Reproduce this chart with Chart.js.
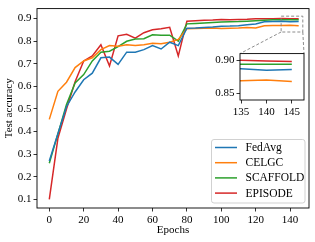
<!DOCTYPE html>
<html>
<head>
<meta charset="utf-8">
<script src="https://cdn.jsdelivr.net/npm/chart.js@4.4.1/dist/chart.umd.min.js"></script>
<style>
  html, body { margin: 0; padding: 0; background: #fff; }
  #wrap { position: relative; width: 315px; height: 242px; }
  #main { position: absolute; left: 0; top: 0; }
  #inset { position: absolute; left: 195px; top: 45px; }
</style>
</head>
<body>
<div id="wrap">
  <canvas id="main" width="315" height="242"></canvas>
  <canvas id="inset" width="115" height="75"></canvas>
</div>
<script>
// données (une valeur toutes les 5 époques)
const epochs = [0, 5, 10, 15, 20, 25, 30, 35, 40, 45, 50, 55, 60, 65, 70, 75, 80, 85, 90, 95, 100, 105, 110, 115, 120, 125, 130, 135, 140, 145];
const fedAvg = [0.27, 0.39, 0.51, 0.575, 0.629, 0.658, 0.726, 0.729, 0.697, 0.751, 0.751, 0.762, 0.78, 0.765, 0.795, 0.78, 0.857, 0.858, 0.86, 0.862, 0.865, 0.866, 0.868, 0.872, 0.875, 0.885, 0.886, 0.887, 0.885, 0.886];
const celgc = [0.454, 0.578, 0.618, 0.683, 0.712, 0.726, 0.762, 0.78, 0.777, 0.784, 0.78, 0.784, 0.79, 0.788, 0.795, 0.807, 0.854, 0.856, 0.857, 0.858, 0.856, 0.857, 0.858, 0.86, 0.858, 0.868, 0.869, 0.869, 0.87, 0.868];
const scaffold = [0.26, 0.39, 0.52, 0.615, 0.652, 0.712, 0.751, 0.755, 0.775, 0.799, 0.809, 0.81, 0.828, 0.826, 0.826, 0.80, 0.876, 0.878, 0.88, 0.882, 0.884, 0.885, 0.886, 0.888, 0.89, 0.892, 0.894, 0.894, 0.894, 0.894];
const episode = [0.10, 0.37, 0.50, 0.62, 0.712, 0.734, 0.784, 0.69, 0.823, 0.83, 0.813, 0.837, 0.85, 0.854, 0.861, 0.734, 0.888, 0.89, 0.892, 0.893, 0.895, 0.894, 0.895, 0.896, 0.898, 0.899, 0.899, 0.900, 0.899, 0.898];

const seriesNames = ['FedAvg', 'CELGC', 'SCAFFOLD', 'EPISODE'];
const seriesValues = [fedAvg, celgc, scaffold, episode];
const seriesColors = ['#1f77b4', '#ff7f0e', '#2ca02c', '#d62728'];

const xTicks = [0, 20, 40, 60, 80, 100, 120, 140];
const yTicks = [0.1, 0.2, 0.3, 0.4, 0.5, 0.6, 0.7, 0.8, 0.9];
const insetXTicks = [135, 140, 145];
const insetYTicks = [0.85, 0.90];
const insetXRange = [134.8, 147.4];
const insetYRange = [0.84, 0.91];

const FONT = { family: '"Liberation Serif", "DejaVu Serif", serif', size: 11 };
const LEGEND_FONT_SIZE = 11.5;
const INSET_LEFT = 195, INSET_TOP = 45;

function buildDatasets() {
    return seriesNames.map((name, i) => ({
        label: name,
        data: epochs.map((e, j) => ({ x: e, y: seriesValues[i][j] })),
        borderColor: seriesColors[i],
        backgroundColor: seriesColors[i],
        borderWidth: 1.5,
        pointRadius: 0,
        tension: 0,
        fill: false
    }));
}

function axis(min, max, ticks, fmt, extra) {
    return Object.assign({
        type: 'linear',
        min: min,
        max: max,
        afterBuildTicks: s => { s.ticks = ticks.map(v => ({ value: v })); },
        ticks: { font: FONT, color: '#000', padding: 2, maxRotation: 0, autoSkip: false, callback: fmt },
        grid: { drawOnChartArea: false, drawTicks: true, tickLength: 3.5, tickColor: '#000', tickWidth: 0.8 },
        border: { display: false }
    }, extra);
}

// cadre noir autour de la zone de tracé
function drawFrame(ctx, a) {
    ctx.save();
    ctx.strokeStyle = '#000';
    ctx.lineWidth = 0.9;
    ctx.strokeRect(a.left, a.top, a.right - a.left, a.bottom - a.top);
    ctx.restore();
}

// Graphique en médaillon (zoom sur la fin)
const insetPlugin = {
    id: 'insetPlugin',
    beforeDatasetsDraw(chart) {
        const { ctx, chartArea: a } = chart;
        ctx.save();
        ctx.fillStyle = '#fff';
        ctx.fillRect(a.left, a.top, a.right - a.left, a.bottom - a.top);
        ctx.restore();
    },
    afterDraw(chart) {
        drawFrame(chart.ctx, chart.chartArea);
    }
};

const insetChart = new Chart(document.getElementById('inset').getContext('2d'), {
    type: 'line',
    data: { datasets: buildDatasets() },
    options: {
        responsive: false,
        animation: false,
        layout: { padding: { left: 0, top: 6.7, right: 6, bottom: 0 } },
        plugins: { legend: { display: false }, tooltip: { enabled: false } },
        scales: {
            x: axis(insetXRange[0], insetXRange[1], insetXTicks, v => String(v), { afterFit: s => { s.height = 20; } }),
            y: axis(insetYRange[0], insetYRange[1], insetYTicks, v => v.toFixed(2), { afterFit: s => { s.width = 45; } })
        }
    },
    plugins: [insetPlugin]
});

// cadre, rectangle de zoom et légende du graphique principal
const mainPlugin = {
    id: 'mainPlugin',
    afterDraw(chart) {
        const { ctx, chartArea: a, scales } = chart;
        drawFrame(ctx, a);

        // rectangle pointillé + traits vers le médaillon
        const rx0 = scales.x.getPixelForValue(insetXRange[0]);
        const rx1 = scales.x.getPixelForValue(insetXRange[1]);
        const ry0 = scales.y.getPixelForValue(insetYRange[1]);
        const ry1 = scales.y.getPixelForValue(insetYRange[0]);
        const ia = insetChart.chartArea;
        ctx.save();
        ctx.strokeStyle = '#808080';
        ctx.lineWidth = 0.9;
        ctx.setLineDash([3, 2]);
        ctx.strokeRect(rx0, ry0, rx1 - rx0, ry1 - ry0);
        ctx.beginPath();
        ctx.moveTo(rx0, ry1);
        ctx.lineTo(INSET_LEFT + ia.left, INSET_TOP + ia.top);
        ctx.moveTo(rx1, ry1);
        ctx.lineTo(INSET_LEFT + ia.right, INSET_TOP + ia.top);
        ctx.stroke();
        ctx.restore();

        // légende en bas à droite
        const lw = 93.5, lh = 63.5;
        const lx = a.right - 4 - lw, ly = a.bottom - 5 - lh;
        ctx.save();
        ctx.beginPath();
        ctx.roundRect(lx, ly, lw, lh, 2.5);
        ctx.fillStyle = 'rgba(255,255,255,0.8)';
        ctx.fill();
        ctx.strokeStyle = '#cccccc';
        ctx.lineWidth = 0.9;
        ctx.stroke();
        ctx.font = `${LEGEND_FONT_SIZE}px ${FONT.family}`;
        ctx.textBaseline = 'middle';
        ctx.fillStyle = '#000';
        seriesNames.forEach((name, i) => {
            const y = ly + 8 + i * 15.2;
            ctx.beginPath();
            ctx.strokeStyle = seriesColors[i];
            ctx.lineWidth = 1.5;
            ctx.moveTo(lx + 3.5, y);
            ctx.lineTo(lx + 25.5, y);
            ctx.stroke();
            ctx.fillText(name, lx + 34, y + 0.5);
        });
        ctx.restore();
    }
};

const mainChart = new Chart(document.getElementById('main').getContext('2d'), {
    type: 'line',
    data: { datasets: buildDatasets() },
    options: {
        responsive: false,
        animation: false,
        layout: { padding: { left: 0, top: 5, right: 6, bottom: 0 } },
        plugins: { legend: { display: false }, tooltip: { enabled: false } },
        scales: {
            x: axis(-7.15, 151, xTicks, v => String(v), {
                afterFit: s => { s.height = 34; },
                title: { display: true, text: 'Epochs', font: FONT, color: '#000', padding: { top: 0, bottom: 5.5 } }
            }),
            y: axis(0.0623, 0.9434, yTicks, v => v.toFixed(1), {
                afterFit: s => { s.width = 37; },
                title: { display: true, text: 'Test accuracy', font: FONT, color: '#000', padding: { top: 2.5, bottom: 0 } }
            })
        }
    },
    plugins: [mainPlugin]
});
</script>
</body>
</html>
